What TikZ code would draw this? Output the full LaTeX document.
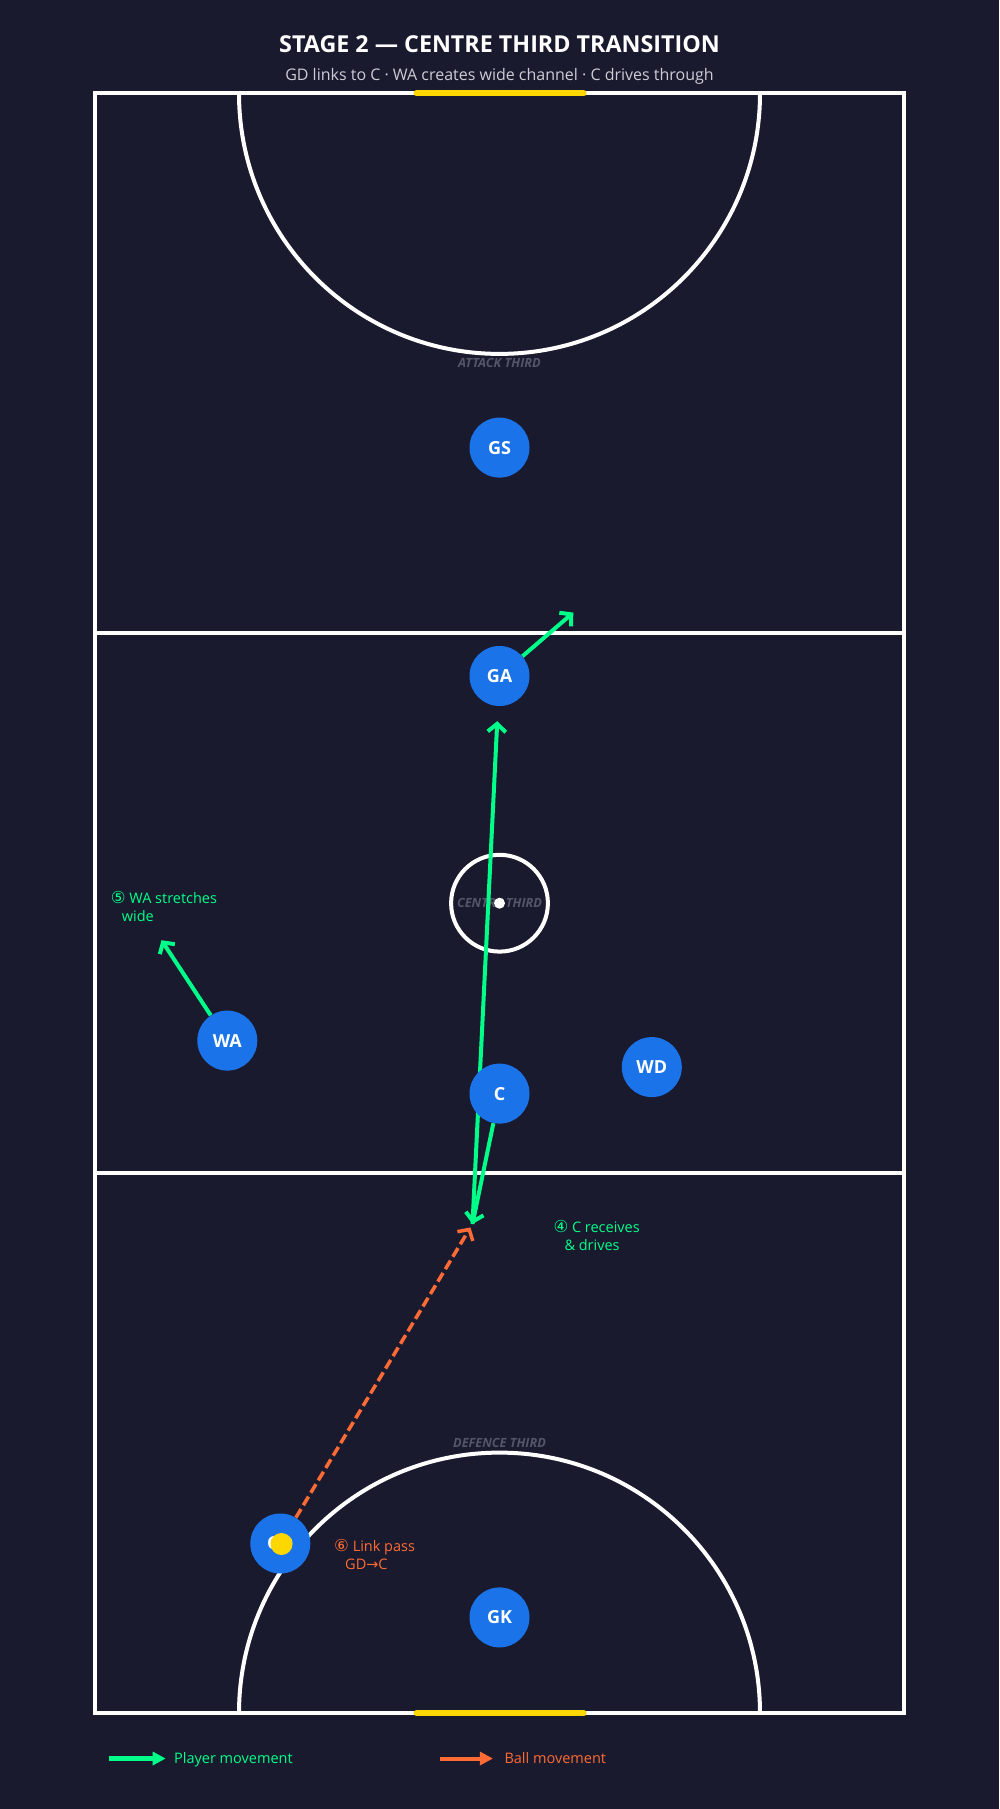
\documentclass[tikz,border=0pt]{standalone}
\usepackage{fontspec}
\setmainfont{Open Sans}
\newfontfamily\symfont{DejaVu Sans}
\usepackage{xcolor}
\usepackage{tikz}
\usetikzlibrary{arrows.meta, positioning, calc}
\definecolor{courtbg}{RGB}{26, 26, 46}
\definecolor{playerblue}{RGB}{26, 115, 232}
\definecolor{movegreen}{RGB}{0, 255, 136}
\definecolor{ballorange}{RGB}{255, 107, 53}
\definecolor{goalyellow}{RGB}{255, 215, 0}
\definecolor{zonegrey}{RGB}{85, 85, 105}
\definecolor{subgrey}{RGB}{204, 204, 214}
\newcommand{\stepnum}[1]{{\symfont\fontsize{16.5}{17.5}\selectfont #1}}
\pgfdeclarelayer{court}
\pgfdeclarelayer{moves}
\pgfsetlayers{court,moves,main}

\begin{document}
\begin{tikzpicture}[x=1pt, y=-1pt,
    courtline/.style={white, line width=4pt},
    goalline/.style={goalyellow, line width=6pt, line cap=round},
    zone/.style={anchor=base, text=zonegrey, font=\fontsize{12.7}{14}\selectfont\bfseries\itshape},
    player/.style={circle, fill=playerblue, minimum size=60pt, inner sep=0pt, text=white, font=\fontsize{18}{21}\selectfont\bfseries},
    move/.style={movegreen, line width=4pt, -{Straight Barb[length=8pt, width=18pt]}},
    pass/.style={ballorange, line width=3.5pt, dash pattern=on 10pt off 4.5pt, -{Straight Barb[length=8pt, width=18pt]}},
    note/.style={anchor=north west, align=left, inner sep=0pt, font=\fontsize{14.5}{17.5}\selectfont},
    legtext/.style={anchor=base west, inner sep=0pt, font=\fontsize{14.5}{17}\selectfont}]
    \begin{pgfonlayer}{court}
    \fill[courtbg] (0,0) rectangle (999,1809);
    \node[anchor=base, text=white, font=\fontsize{23.3}{27}\selectfont\bfseries] (title) at (499.5,52.7) {STAGE 2 — CENTRE THIRD TRANSITION};
    \node[anchor=base, text=subgrey, font=\fontsize{16}{19}\selectfont] (subtitle) at (499.5,80.7) {GD links to C · WA creates wide channel · C drives through};
    \draw[courtline] (94.6,93.4) rectangle (904.4,1713.1);
    \draw[courtline] (94.6,633.3) -- (904.4,633.3);
    \draw[courtline] (94.6,1173.2) -- (904.4,1173.2);
    \begin{scope}
        \clip (94.6,93.4) rectangle (904.4,1713.1);
        \draw[courtline] (499.5,93.4) circle[radius=260.5];
        \draw[courtline] (499.5,1713.1) circle[radius=260.5];
    \end{scope}
    \draw[goalline] (416.5,93.4) -- (583.7,93.4);
    \draw[goalline] (416.5,1713.1) -- (583.7,1713.1);
    \draw[courtline] (499.5,903.2) circle[radius=48.4];
    \node[zone] (attack) at (499.5,367.3) {ATTACK THIRD};
    \node[zone] (centre) at (499.5,907.7) {CENTRE THIRD};
    \node[zone] (defence) at (499.5,1447.3) {DEFENCE THIRD};
    \fill[white] (499.5,903.2) circle[radius=5.5];
    \end{pgfonlayer}

    \node[player] (GS) at (499.5,447.6) {GS};
    \node[player] (GA) at (499.5,676) {GA};
    \node[player] (WA) at (227.3,1040.6) {WA};
    \node[player] (WD) at (651.8,1067.1) {WD};
    \node[player] (C) at (499.5,1093.6) {C};
    \node[player] (GD) at (280.3,1543.5) {GD};
    \node[player] (GK) at (499.5,1617.4) {GK};
    \node[circle, fill=goalyellow, minimum size=22pt, inner sep=0pt] (ball) at (281.5,1544) {};

    \coordinate (GAgo) at (573.3,612.6);
    \coordinate (WAgo) at (161.5,940.2);
    \coordinate (recv) at (472.5,1224);
    \begin{pgfonlayer}{moves}
    \draw[move] (GA) -- (GAgo);
    \draw[move] (WA) -- (WAgo);
    \draw[move] (C) -- (recv);
    \draw[move, shorten >=15pt] (recv) -- (GA);
    \draw[pass, shorten >=4pt] (GD) -- (recv);
    \end{pgfonlayer}

    \node[note, text=movegreen] (note5) at (110.7,891.5) {\stepnum{⑤} WA stretches\\\hspace*{11pt}wide};
    \node[note, text=movegreen] (note4) at (553.3,1220.5) {\stepnum{④} C receives\\\hspace*{11pt}\& drives};
    \node[note, text=ballorange] (note6) at (334,1539.5) {\stepnum{⑥} Link pass\\\hspace*{11pt}GD{\symfont →}C};

    \coordinate (pl0) at (108.6,1758.5);
    \coordinate (pl1) at (165.7,1758.5);
    \coordinate (bl0) at (440,1758.5);
    \coordinate (bl1) at (492.9,1758.5);
    \draw[movegreen, line width=4.5pt, -{Triangle[length=13pt, width=13pt]}] (pl0) -- (pl1);
    \draw[ballorange, line width=4pt, -{Triangle[length=13pt, width=13pt]}] (bl0) -- (bl1);
    \node[legtext, text=movegreen] (pltext) at (173.9,1763.2) {Player movement};
    \node[legtext, text=ballorange] (bltext) at (504.3,1763.2) {Ball movement};
\end{tikzpicture}
\end{document}
